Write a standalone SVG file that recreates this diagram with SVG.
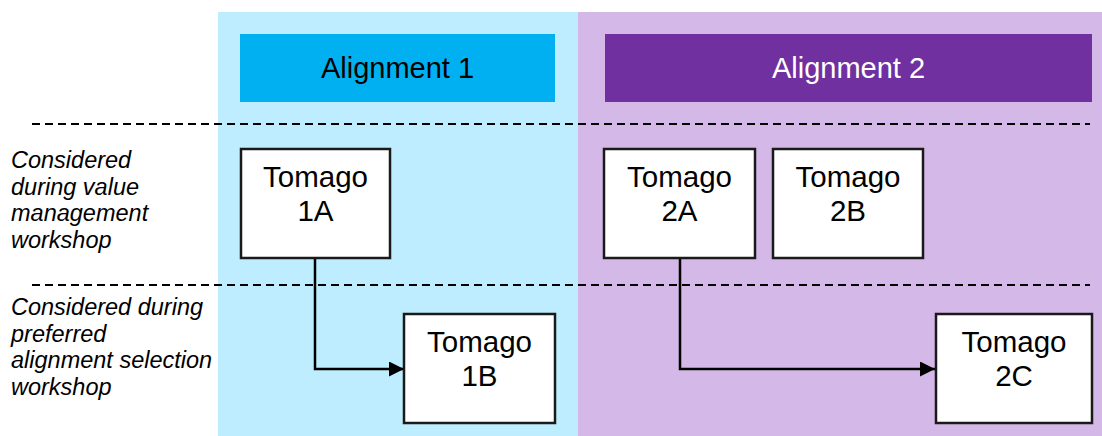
<svg xmlns="http://www.w3.org/2000/svg" width="1102" height="436" viewBox="0 0 1102 436">
<style>
.lbl{font-family:"Liberation Sans",Arial,sans-serif;font-size:23.5px;font-style:italic;fill:#000}
.node rect{fill:#fff;stroke:#1a1a1a;stroke-width:2.5}
.node text{font-family:"Liberation Sans",Arial,sans-serif;font-size:29.5px;fill:#000;text-anchor:middle}
.hdr text{font-family:"Liberation Sans",Arial,sans-serif;font-size:29px;text-anchor:middle}
.dash{stroke:#000;stroke-width:2;stroke-dasharray:8 5;fill:none}
.conn path{stroke:#000;stroke-width:2.5;fill:none;marker-end:url(#arr)}
</style>
<defs>
<marker id="arr" markerWidth="15" markerHeight="15" refX="15" refY="7.5" orient="auto" markerUnits="userSpaceOnUse">
<path d="M0,0 L15,7.5 L0,15 Z" fill="#000"/>
</marker>
</defs>
<rect width="1102" height="436" fill="#fff"/>
<g id="panel1"><rect x="218" y="12" width="360" height="424" fill="#BDEDFF"/></g>
<g id="panel2"><rect x="578" y="12" width="524" height="424" fill="#D4B8E8"/></g>
<g id="alignment1" class="hdr">
<rect x="240" y="34" width="315" height="68" fill="#00B0F0"/>
<text x="397.5" y="78" fill="#000">Alignment 1</text>
</g>
<g id="alignment2" class="hdr">
<rect x="605" y="34" width="487" height="68" fill="#7030A0"/>
<text x="848.5" y="78" fill="#fff">Alignment 2</text>
</g>
<g id="dividers">
<line class="dash" x1="32" y1="124" x2="1090" y2="124"/>
<line class="dash" x1="32" y1="285" x2="1090" y2="285"/>
</g>
<g id="label-vm">
<text class="lbl" x="11" y="168">Considered</text>
<text class="lbl" x="11" y="194.7">during value</text>
<text class="lbl" x="11" y="221.4">management</text>
<text class="lbl" x="11" y="248">workshop</text>
</g>
<g id="label-pas">
<text class="lbl" x="11" y="315">Considered during</text>
<text class="lbl" x="11" y="341.7">preferred</text>
<text class="lbl" x="11" y="368.4">alignment selection</text>
<text class="lbl" x="11" y="395">workshop</text>
</g>
<g id="connectors" class="conn">
<path d="M315,258 V369 H404"/>
<path d="M680,258 V369 H935"/>
</g>
<g id="tomago1A" class="node"><rect x="241" y="149" width="149" height="109"/><text x="315.5" y="187">Tomago</text><text x="315.5" y="221">1A</text></g>
<g id="tomago1B" class="node"><rect x="404" y="314" width="151" height="109"/><text x="479.5" y="352">Tomago</text><text x="479.5" y="386">1B</text></g>
<g id="tomago2A" class="node"><rect x="604" y="149" width="151" height="109"/><text x="679.5" y="187">Tomago</text><text x="679.5" y="221">2A</text></g>
<g id="tomago2B" class="node"><rect x="773" y="149" width="150" height="109"/><text x="848" y="187">Tomago</text><text x="848" y="221">2B</text></g>
<g id="tomago2C" class="node"><rect x="936" y="314" width="156" height="109"/><text x="1014" y="352">Tomago</text><text x="1014" y="386">2C</text></g>
</svg>
